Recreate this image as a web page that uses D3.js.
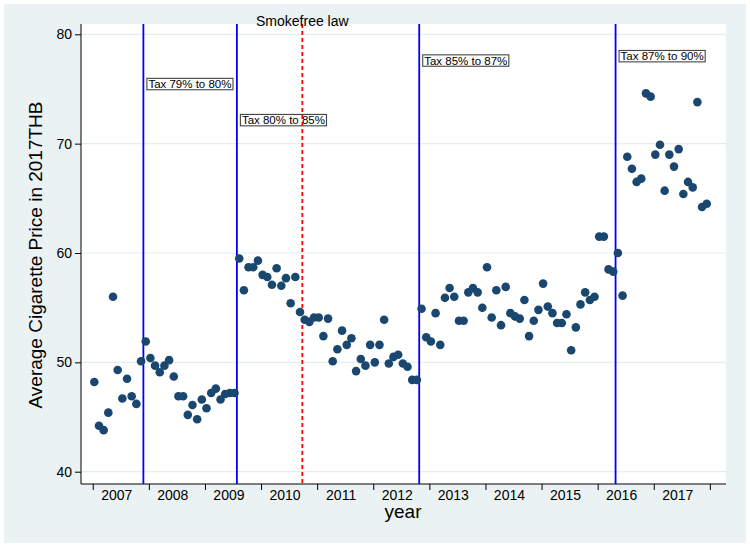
<!DOCTYPE html>
<html>
<head>
<meta charset="utf-8">
<script src="https://cdn.jsdelivr.net/npm/d3@7"></script>
<style>
  html, body { margin: 0; padding: 0; background: #ffffff; }
  svg { display: block; font-family: "Liberation Sans", Arial, sans-serif; }
</style>
</head>
<body>
<svg id="chart" width="750" height="549"></svg>
<script>
// ---------------- data ----------------
const years = [2007, 2008, 2009, 2010, 2011, 2012, 2013, 2014, 2015, 2016, 2017];
const yTicks = [40, 50, 60, 70, 80];
// monthly average price, Jan 2007 ... Dec 2017
const prices = [
  48.2, 44.2, 43.8, 45.4, 56.0, 49.3, 46.7, 48.5, 46.9, 46.2, 50.1, 51.9,
  50.4, 49.7, 49.1, 49.7, 50.2, 48.7, 46.9, 46.9, 45.2, 46.1, 44.8, 46.6,
  45.8, 47.2, 47.6, 46.6, 47.1, 47.2, 47.2, 59.5, 56.6, 58.7, 58.7, 59.3,
  58.0, 57.8, 57.1, 58.6, 57.0, 57.7, 55.4, 57.8, 54.6, 53.9, 53.7, 54.1,
  54.1, 52.4, 54.0, 50.1, 51.2, 52.9, 51.6, 52.2, 49.2, 50.3, 49.7, 51.6,
  50.0, 51.6, 53.9, 49.9, 50.5, 50.7, 49.9, 49.6, 48.4, 48.4, 54.9, 52.3,
  51.9, 54.5, 51.6, 55.9, 56.8, 56.0, 53.8, 53.8, 56.4, 56.8, 56.4, 55.0,
  58.7, 54.1, 56.6, 53.4, 56.9, 54.5, 54.2, 54.0, 55.7, 52.4, 53.8, 54.8,
  57.2, 55.1, 54.5, 53.6, 53.6, 54.4, 51.1, 53.2, 55.3, 56.4, 55.7, 56.0,
  61.5, 61.5, 58.5, 58.3, 60.0, 56.1, 68.8, 67.7, 66.5, 66.8, 74.6, 74.3,
  69.0, 69.9, 65.7, 69.0, 67.9, 69.5, 65.4, 66.5, 66.0, 73.8, 64.2, 64.5
];
// policy events: month index (0 = Jan 2007, between-month positions), label, label height (price units)
const eventMonths = [10.5, 30.5, 44.5, 69.5, 111.5];
const eventLabels = ["Tax 79% to 80%", "Tax 80% to 85%", "Smokefree law", "Tax 85% to 87%", "Tax 87% to 90%"];
const eventLabelY = [75.45, 72.15, null, 77.6, 78.0];
const eventKinds = ["tax", "tax", "law", "tax", "tax"];

// ---------------- layout ----------------
const svg = d3.select("#chart");
const plot = { left: 81, right: 726, top: 24, bottom: 484 };

// background graph region
svg.append("rect").attr("x", 4).attr("y", 4).attr("width", 742).attr("height", 539)
  .attr("fill", "#eaf2f3");
svg.append("rect").attr("x", plot.left).attr("y", plot.top)
  .attr("width", plot.right - plot.left).attr("height", plot.bottom - plot.top)
  .attr("fill", "#ffffff");

const x = d3.scaleLinear().domain([0, 131]).range([94.3, 94.3 + 131 * 4.675]);
const y = d3.scaleLinear().domain([40, 80]).range([471.7, 34.3]);

// gridlines
svg.append("g").selectAll("line").data(yTicks).join("line")
  .attr("x1", plot.left).attr("x2", plot.right)
  .attr("y1", d => y(d)).attr("y2", d => y(d))
  .attr("stroke", "#e4eef1").attr("stroke-width", 1.2);

// y axis
const yAxis = d3.axisLeft(y).tickValues(yTicks).tickSize(6).tickPadding(3);
const gy = svg.append("g").attr("transform", `translate(${plot.left},0)`).call(yAxis);
gy.select(".domain").remove();
gy.selectAll(".tick line").attr("stroke", "#000");
gy.selectAll(".tick text").attr("font-size", 14).attr("fill", "#000")
  .attr("font-family", "Liberation Sans, Arial, sans-serif");
svg.append("line").attr("x1", plot.left).attr("x2", plot.left)
  .attr("y1", plot.top).attr("y2", plot.bottom).attr("stroke", "#000").attr("stroke-width", 1);

// x axis: ticks at year boundaries, labels mid-year
const tickPos = years.concat([2018]).map(yr => (yr - 2007) * 12 - 0.33);
const gx = svg.append("g").attr("transform", `translate(0,${plot.bottom})`)
  .call(d3.axisBottom(x).tickValues(tickPos).tickSize(6).tickFormat(""));
gx.select(".domain").remove();
gx.selectAll(".tick line").attr("stroke", "#000");
svg.append("line").attr("x1", plot.left).attr("x2", plot.right)
  .attr("y1", plot.bottom).attr("y2", plot.bottom).attr("stroke", "#000").attr("stroke-width", 1);
svg.append("g").selectAll("text").data(years).join("text")
  .attr("x", d => x((d - 2007) * 12 + 4.8))
  .attr("y", 499.5)
  .attr("text-anchor", "middle")
  .attr("font-size", 14).attr("fill", "#000")
  .text(d => d);

// axis titles
svg.append("text").attr("x", 403).attr("y", 518).attr("text-anchor", "middle")
  .attr("font-size", 19).attr("fill", "#000").text("year");
svg.append("text").attr("transform", "translate(42,255) rotate(-90)")
  .attr("text-anchor", "middle").attr("font-size", 19).attr("fill", "#000")
  .text("Average Cigarette Price in 2017THB");

// event lines
const events = eventMonths.map((m, i) => ({ m, label: eventLabels[i], ly: eventLabelY[i], kind: eventKinds[i] }));
svg.append("g").selectAll("line").data(events).join("line")
  .attr("x1", d => x(d.m)).attr("x2", d => x(d.m))
  .attr("y1", plot.top).attr("y2", plot.bottom)
  .attr("stroke", d => d.kind === "law" ? "#ff0000" : "#0000ff")
  .attr("stroke-width", 1.8)
  .attr("stroke-dasharray", d => d.kind === "law" ? "4,3" : null);

// points
svg.append("g").selectAll("circle").data(prices).join("circle")
  .attr("cx", (d, i) => x(i)).attr("cy", d => y(d)).attr("r", 4.3)
  .attr("fill", "#1a476f");

// tax labels with boxes
const taxEvents = events.filter(d => d.kind === "tax");
const lg = svg.append("g");
taxEvents.forEach(d => {
  const t = lg.append("text").attr("x", x(d.m) + 5).attr("y", y(d.ly))
    .attr("dominant-baseline", "central")
    .attr("font-size", 11.5).attr("fill", "#000").text(d.label);
  const bb = t.node().getBBox();
  lg.insert("rect", "text")
    .attr("x", bb.x - 1.5).attr("y", y(d.ly) - 5.7)
    .attr("width", bb.width + 3).attr("height", 11.4)
    .attr("fill", "none").attr("stroke", "#444").attr("stroke-width", 1.1);
});

// smokefree law label
events.filter(d => d.kind === "law").forEach(d => {
  svg.append("text").attr("x", x(d.m)).attr("y", 25.5).attr("text-anchor", "middle")
    .attr("font-size", 14).attr("fill", "#000").text(d.label);
});
</script>
</body>
</html>
